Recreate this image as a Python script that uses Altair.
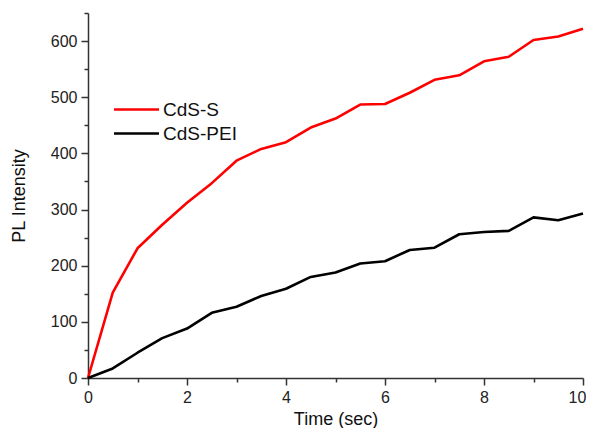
import altair as alt
import pandas as pd

time = [0, 0.5, 1, 1.5, 2, 2.5, 3, 3.5, 4, 4.5, 5, 5.5, 6, 6.5, 7, 7.5, 8, 8.5, 9, 9.5, 10]
cds_s = [0, 152, 231, 273, 312, 347, 387, 408, 420, 446, 462, 487, 488, 508, 531, 539, 564, 572, 602, 608, 622]
cds_pei = [0, 17, 45, 71, 88, 116, 127, 146, 159, 180, 188, 204, 208, 228, 232, 256, 260, 262, 286, 281, 293]
series_names = ["CdS-S", "CdS-PEI"]
series_colors = ["#ff0000", "#000000"]

x_major = [0, 2, 4, 6, 8, 10]
x_minor = [1, 3, 5, 7, 9]
y_major = [0, 100, 200, 300, 400, 500, 600]
y_minor = [50, 150, 250, 350, 450, 550, 650]

df = pd.DataFrame({
    "Time": time * 2,
    "PL": cds_s + cds_pei,
    "Sample": [series_names[0]] * len(time) + [series_names[1]] * len(time),
})

FONT = "Liberation Sans"
xs = alt.Scale(domain=[0, 10], nice=False, zero=False)
ys = alt.Scale(domain=[0, 650], nice=False)

main = alt.Chart(df).mark_line(strokeWidth=2.6, strokeJoin="round").encode(
    x=alt.X("Time:Q", scale=xs,
            axis=alt.Axis(values=x_major, title="Time (sec)", orient="bottom",
                          tickSize=7, labelPadding=4, titlePadding=5, format="d",
                          labelFlush=False,
                          labelOffset={"condition": {"test": "datum.value == 10", "value": -6}, "value": 0})),
    y=alt.Y("PL:Q", scale=ys,
            axis=alt.Axis(values=y_major, title="PL Intensity", orient="left",
                          tickSize=7, labelPadding=4, titlePadding=22, labelFlush=False)),
    color=alt.Color("Sample:N",
                    scale=alt.Scale(domain=series_names, range=series_colors),
                    legend=alt.Legend(orient="none", legendX=38, legendY=86, title=None,
                                      symbolType="M-2.5,0H2.5", symbolSize=324,
                                      symbolStrokeWidth=2.6, labelFontSize=19,
                                      labelFont=FONT, labelColor="#111111",
                                      labelOffset=16, rowPadding=3, padding=0)),
    detail="Sample:N",
)

minor = alt.Chart(df).mark_line(opacity=0).encode(
    x=alt.X("Time:Q", scale=xs,
            axis=alt.Axis(values=x_minor, title=None, labels=False, domain=False,
                          orient="bottom", tickSize=4)),
    y=alt.Y("PL:Q", scale=ys,
            axis=alt.Axis(values=y_minor, title=None, labels=False, domain=False,
                          orient="left", tickSize=4)),
    detail="Sample:N",
)

chart = alt.layer(main, minor).resolve_axis(x="independent", y="independent").properties(
    width=495, height=365,
    autosize=alt.AutoSizeParams(type="none"),
    padding={"left": 80, "top": 5, "right": 3, "bottom": 50},
).configure_view(stroke=None).configure_axis(
    grid=False,
    domainColor="#333333", domainWidth=1.5,
    tickColor="#333333", tickWidth=1.5,
    labelFont=FONT, labelFontSize=16, labelColor="#222222",
    titleFont=FONT, titleFontSize=18, titleFontWeight="normal", titleColor="#111111",
)

chart.save("out.html", embed_options={"renderer": "svg", "actions": False})
